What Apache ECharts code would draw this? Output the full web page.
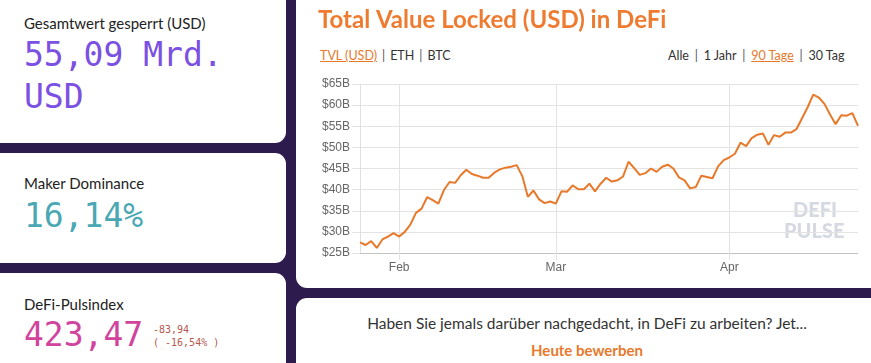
<!DOCTYPE html>
<html>
<head>
<meta charset="utf-8">
<script src="https://cdn.jsdelivr.net/npm/echarts@6/dist/echarts.min.js"></script>
<style>
  html, body { margin: 0; padding: 0; }
  body { width: 871px; height: 363px; overflow: hidden; background: #2d1b4e; position: relative; font-family: "Lato", "Open Sans", sans-serif; }
  .card { position: absolute; background: #fff; border-radius: 11px; }
  .t { position: absolute; white-space: nowrap; }
  .lbl { font-family: "Lato", sans-serif; font-size: 15px; color: #222; line-height: 18px; }
  .big { font-family: "DejaVu Sans Mono", monospace; font-size: 33px; line-height: 40px; }
  .small { font-family: "DejaVu Sans Mono", monospace; font-size: 10px; color: #b5584f; line-height: 12px; }
  .tabs { font-family: "Lato", sans-serif; font-size: 12.5px; color: #333; line-height: 14px; }
  .tabs u { color: #e8792b; text-decoration: underline; }
  .sep { color: #555; margin: 0 5px; }
  .tabs.r .sep { margin: 0 5.8px; }
</style>
</head>
<body>
<div class="card" style="left:-12px; top:-12px; width:298px; height:155px;"></div>
<div class="card" style="left:-12px; top:153px; width:298px; height:110px;"></div>
<div class="card" style="left:-12px; top:273px; width:298px; height:120px;"></div>
<div class="card" style="left:296px; top:-12px; width:600px; height:300px;"></div>
<div class="card" style="left:296px; top:298px; width:600px; height:100px;"></div>

<div class="t lbl" style="left:24px; top:14px;">Gesamtwert gesperrt (USD)</div>
<div class="t big" style="left:24px; top:35px; color:#7b50e2;">55,09 Mrd.<br><span style="position:relative; top:2px;">USD</span></div>

<div class="t lbl" style="left:24px; top:174px;">Maker Dominance</div>
<div class="t big" style="left:24px; top:196px; color:#4aa8b4;">16,14%</div>

<div class="t lbl" style="left:24px; top:295px;">DeFi-Pulsindex</div>
<div class="t big" style="left:24px; top:315px; color:#d1449d;">423,47</div>
<div class="t small" style="left:153px; top:324px;">-83,94</div>
<div class="t small" style="left:153px; top:337px;">( -16,54% )</div>
<div class="t" style="left:24px; top:361px; font-size:11px; color:#999; font-family:Lato;">Zuletzt aktualisiert</div>

<div class="t tabs" style="left:320px; top:49px;"><u>TVL (USD)</u><span class="sep">|</span>ETH<span class="sep">|</span>BTC</div>
<div class="t tabs r" style="left:668px; top:49px;">Alle<span class="sep">|</span>1 Jahr<span class="sep">|</span><u>90 Tage</u><span class="sep">|</span>30 Tag</div>

<div class="t" style="left:296px; width:582px; text-align:center; top:314px; font-family:Lato; font-size:15.5px; color:#333;">Haben Sie jemals darüber nachgedacht, in DeFi zu arbeiten? Jet...</div>
<div class="t" style="left:296px; width:582px; text-align:center; top:341px; font-family:Lato; font-weight:700; font-size:15px; color:#e8792b;">Heute bewerben</div>

<div id="chart" style="position:absolute; left:296px; top:0; width:575px; height:288px;"></div>

<script>
// Categories: daily dates (90 days)
const dates = [
  '2021-01-25','2021-01-26','2021-01-27','2021-01-28','2021-01-29','2021-01-30','2021-01-31',
  '2021-02-01','2021-02-02','2021-02-03','2021-02-04','2021-02-05','2021-02-06','2021-02-07',
  '2021-02-08','2021-02-09','2021-02-10','2021-02-11','2021-02-12','2021-02-13','2021-02-14',
  '2021-02-15','2021-02-16','2021-02-17','2021-02-18','2021-02-19','2021-02-20','2021-02-21',
  '2021-02-22','2021-02-23','2021-02-24','2021-02-25','2021-02-26','2021-02-27','2021-02-28',
  '2021-03-01','2021-03-02','2021-03-03','2021-03-04','2021-03-05','2021-03-06','2021-03-07',
  '2021-03-08','2021-03-09','2021-03-10','2021-03-11','2021-03-12','2021-03-13','2021-03-14',
  '2021-03-15','2021-03-16','2021-03-17','2021-03-18','2021-03-19','2021-03-20','2021-03-21',
  '2021-03-22','2021-03-23','2021-03-24','2021-03-25','2021-03-26','2021-03-27','2021-03-28',
  '2021-03-29','2021-03-30','2021-03-31','2021-04-01','2021-04-02','2021-04-03','2021-04-04',
  '2021-04-05','2021-04-06','2021-04-07','2021-04-08','2021-04-09','2021-04-10','2021-04-11',
  '2021-04-12','2021-04-13','2021-04-14','2021-04-15','2021-04-16','2021-04-17','2021-04-18',
  '2021-04-19','2021-04-20','2021-04-21','2021-04-22','2021-04-23','2021-04-24'
];
// TVL in billions USD
const tvl = [
  27.5, 26.9, 27.8, 26.2, 28.2, 28.9, 29.7,
  28.9, 30.0, 31.7, 34.5, 35.5, 38.2, 37.5,
  36.7, 39.9, 41.8, 41.6, 43.4, 44.7, 43.7,
  43.3, 42.8, 42.8, 44.0, 44.8, 45.2, 45.4,
  45.8, 43.2, 38.3, 39.8, 37.7, 36.8, 37.2,
  36.7, 39.6, 39.5, 41.0, 40.1, 40.1, 41.4,
  39.6, 41.4, 42.8, 41.9, 42.2, 43.1, 46.6,
  45.1, 43.5, 43.9, 45.0, 44.2, 45.4, 45.9,
  45.0, 42.9, 42.2, 40.3, 40.6, 43.3, 43.0,
  42.7, 45.5, 47.0, 47.6, 48.5, 51.1, 50.3,
  52.2, 53.0, 53.3, 50.6, 52.9, 52.5, 53.5,
  53.5, 54.3, 56.9, 59.5, 62.5, 61.8, 60.3,
  57.8, 55.5, 57.6, 57.5, 58.1, 55.1
];
const monthNames = {'01':'Jan','02':'Feb','03':'Mar','04':'Apr'};
const yTicks = { min: 25, max: 65, step: 5 };

const isMonthStart = (idx, val) => val.slice(8) === '01';

const chart = echarts.init(document.getElementById('chart'), null, { renderer: 'canvas' });
chart.setOption({
  animation: false,
  title: {
    text: 'Total Value Locked (USD) in DeFi',
    left: 22, top: 8, padding: 0,
    textStyle: { fontFamily: 'Lato', fontWeight: 700, fontSize: 24, color: '#ee7b30' }
  },
  grid: { left: 64, right: 13, top: 84, bottom: 35 },
  xAxis: {
    type: 'category',
    data: dates,
    boundaryGap: false,
    axisLine: { lineStyle: { color: '#c4c4c4', width: 1 } },
    axisTick: { show: true, interval: isMonthStart, length: 7, lineStyle: { color: '#e3e3e3' } },
    splitLine: { show: true, interval: isMonthStart, lineStyle: { color: '#e3e3e3' } },
    axisLabel: {
      interval: isMonthStart,
      formatter: v => monthNames[v.slice(5, 7)],
      color: '#666', fontFamily: 'Liberation Sans', fontSize: 12, margin: 9
    }
  },
  yAxis: {
    type: 'value',
    min: yTicks.min, max: yTicks.max, interval: yTicks.step,
    axisLine: { show: true, lineStyle: { color: '#e0e0e0' } },
    axisTick: { show: true, length: 8, lineStyle: { color: '#e3e3e3' } },
    splitLine: { show: true, lineStyle: { color: '#e3e3e3' } },
    axisLabel: {
      formatter: v => '$' + v + 'B',
      color: '#666', fontFamily: 'Liberation Sans', fontSize: 12, margin: 10
    }
  },
  graphic: [
    { type: 'text', left: 497, top: 201, style: { text: 'DEFI', fontFamily: 'Lato', fontWeight: 900, fontSize: 20, fill: '#d6d9e2' } },
    { type: 'text', left: 488, top: 222, style: { text: 'PULSE', fontFamily: 'Lato', fontWeight: 900, fontSize: 20, fill: '#d6d9e2' } }
  ],
  series: [{
    type: 'line',
    data: tvl,
    showSymbol: false,
    symbol: 'none',
    lineStyle: { color: '#e8792b', width: 2 },
    itemStyle: { color: '#e8792b' }
  }]
});
</script>
</body>
</html>
